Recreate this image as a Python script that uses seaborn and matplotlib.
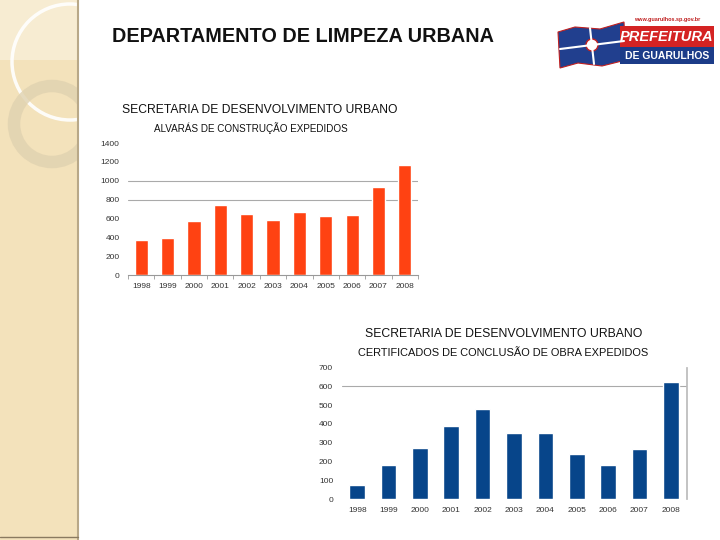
import numpy as np
import pandas as pd
import matplotlib
matplotlib.use("Agg")
import matplotlib.pyplot as plt
import matplotlib.patches as mpatches
import seaborn as sns

# data
years = ["1998", "1999", "2000", "2001", "2002", "2003",
         "2004", "2005", "2006", "2007", "2008"]
alvaras = [373, 395, 578, 747, 652, 585, 670, 624, 638, 937, 1164]
certificados = [75, 181, 273, 389, 479, 351, 351, 238, 181, 266, 623]

alvaras_ticks = [0, 200, 400, 600, 800, 1000, 1200, 1400]
cert_ticks = [0, 100, 200, 300, 400, 500, 600, 700]

sns.set_theme(style="white")
plt.rcParams['font.family'] = ['Liberation Sans', 'DejaVu Sans']

fig = plt.figure(figsize=(7.2, 5.4), dpi=100)
fig.patch.set_facecolor("white")

# --- slide decoration: beige side panel with rings ---
bg = fig.add_axes([0, 0, 1, 1], zorder=-5)
bg.set_xlim(0, 720)
bg.set_ylim(540, 0)
bg.axis("off")
bg.add_patch(mpatches.Rectangle((0, 0), 78, 540, fc="#f3e2bb", ec="none"))
bg.add_patch(mpatches.Rectangle((0, 0), 78, 60, fc="#f7ecd2", ec="none"))
bg.add_patch(mpatches.Circle((70, 62), 58, fc="none", ec="white", lw=2.5, alpha=0.9))
bg.add_patch(mpatches.Circle((52, 124), 38, fc="none", ec="#e0d2b0", lw=9, alpha=0.8))
# cover ring overflow outside panel
bg.add_patch(mpatches.Rectangle((79, 0), 60, 200, fc="white", ec="none"))
bg.plot([78, 78], [0, 540], color="#b8a888", lw=1.5)
bg.plot([0, 78], [537, 537], color="#8a7a60", lw=1)

# logo
flag = mpatches.Polygon([(558, 32), (575, 27), (600, 29), (624, 22),
                         (626, 60), (602, 66), (578, 63), (560, 68)],
                        closed=True, fc="#213f8e", ec="#c02020", lw=0.8)
bg.add_patch(flag)
bg.plot([560, 624], [49, 41], color="white", lw=1.5)
bg.plot([590, 594], [28, 64], color="white", lw=1.5)
bg.add_patch(mpatches.Circle((592, 45), 6, fc="white", ec="#c02020", lw=1))
bg.add_patch(mpatches.Rectangle((620, 26), 94, 21, fc="#d42323", ec="none"))
bg.add_patch(mpatches.Rectangle((620, 47), 94, 17, fc="#1c3c88", ec="none"))
bg.text(667, 37, "PREFEITURA", color="white", fontsize=10.5, fontweight="bold",
        fontstyle="italic", ha="center", va="center")
bg.text(667, 56, "DE GUARULHOS", color="white", fontsize=7.5, fontweight="bold",
        ha="center", va="center")
bg.text(667, 20, "www.guarulhos.sp.gov.br", color="#c02020", fontsize=4,
        fontweight="bold", ha="center", va="center")

bg.text(112, 36, "DEPARTAMENTO DE LIMPEZA URBANA", fontsize=14.3,
        fontweight="bold", color="#111111", ha="left", va="center")


def bar_panel(rect, values, ticks, color, grid_at, right_line, bottom_line):
    ax = fig.add_axes(rect)
    df = pd.DataFrame({"ano": years, "valor": values})
    sns.barplot(data=df, x="ano", y="valor", color=color, width=0.5,
                saturation=1, ax=ax)
    ax.set_xlim(-0.5, len(years) - 0.5)
    ax.set_ylim(ticks[0], ticks[-1])
    ax.set_yticks(ticks)
    ax.set_xlabel("")
    ax.set_ylabel("")
    for v in grid_at:
        ax.axhline(v, color="#aaaaaa", lw=0.8, zorder=0)
    for s in ["top", "left", "right", "bottom"]:
        ax.spines[s].set_visible(False)
    if right_line:
        ax.spines["right"].set_visible(True)
        ax.spines["right"].set_color("#bbbbbb")
    if bottom_line:
        ax.spines["bottom"].set_visible(True)
        ax.spines["bottom"].set_color("#999999")
        ax.spines["bottom"].set_linewidth(0.8)
        ax.set_xticks(np.arange(-0.5, len(years), 1), minor=True)
        ax.tick_params(axis="x", which="minor", bottom=True, length=3,
                       color="#999999", width=0.6)
    ax.tick_params(axis="both", which="major", length=0, labelsize=6,
                   labelcolor="#333333", pad=6)
    ax.set_facecolor("none")
    return ax


ax1 = bar_panel([128 / 720, 1 - 275 / 540, 290 / 720, 132 / 540],
                alvaras, alvaras_ticks, "#ff4212", [800, 1000], False, True)
ax2 = bar_panel([341.5 / 720, 1 - 499 / 540, 345 / 720, 131.3 / 540],
                certificados, cert_ticks, "#07458a", [600], True, False)

bg.text(260, 110, "SECRETARIA DE DESENVOLVIMENTO URBANO", fontsize=8.7,
        color="#111111", ha="center", va="center")
bg.text(251, 128, "ALVARÁS DE CONSTRUÇÃO EXPEDIDOS", fontsize=7.1,
        color="#111111", ha="center", va="center")
bg.text(504, 334, "SECRETARIA DE DESENVOLVIMENTO URBANO", fontsize=8.8,
        color="#111111", ha="center", va="center")
bg.text(503, 353, "CERTIFICADOS DE CONCLUSÃO DE OBRA EXPEDIDOS", fontsize=7.9,
        color="#111111", ha="center", va="center")

fig.savefig("out.png", dpi=100)
